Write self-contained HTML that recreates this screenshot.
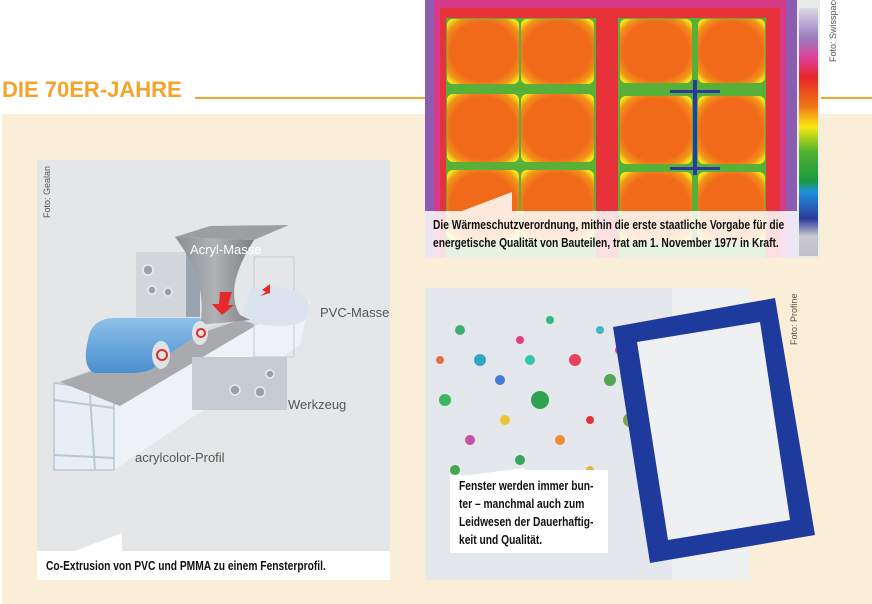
<!DOCTYPE html>
<html><head><meta charset="utf-8"><style>
body{margin:0;width:872px;height:604px;overflow:hidden;background:#fff;position:relative;font-family:"Liberation Sans",sans-serif}
.abs{position:absolute}
.cap{font-family:"Liberation Sans",sans-serif;font-weight:bold;color:#111;font-size:12.5px;line-height:18px;white-space:nowrap;transform:scaleX(0.82);transform-origin:0 0}
</style></head><body>
<div class="abs" style="left:2px;top:77px;font-size:22px;font-weight:bold;color:#f5a32a">DIE 70ER-JAHRE</div>
<div class="abs" style="left:2px;top:114px;width:870px;height:490px;background:#fbeed8"></div>
<div class="abs" style="left:195px;top:97px;width:232px;height:2px;background:#f5a32a"></div>
<div class="abs" style="left:821px;top:97px;width:51px;height:2px;background:#f5a32a"></div>

<svg class="abs" style="left:0;top:0" width="872" height="604">
<defs>
<linearGradient id="blu" x1="0" y1="0" x2="0" y2="1"><stop offset="0" stop-color="#8ec0ea"/><stop offset="1" stop-color="#4a8fcf"/></linearGradient>
<linearGradient id="hop" x1="0" y1="0" x2="1" y2="0"><stop offset="0" stop-color="#8a8c90"/><stop offset=".5" stop-color="#b0b2b6"/><stop offset="1" stop-color="#7c7e82"/></linearGradient>
<radialGradient id="th" cx=".5" cy=".5" r=".65"><stop offset=".7" stop-color="#f06a1a"/><stop offset=".88" stop-color="#f29418"/><stop offset="1" stop-color="#f7e61a"/></radialGradient>
<linearGradient id="cb" x1="0" y1="0" x2="0" y2="1">
<stop offset="0" stop-color="#ddd6e8"/><stop offset=".12" stop-color="#9a7cc0"/><stop offset=".2" stop-color="#e0409a"/><stop offset=".28" stop-color="#e8262a"/><stop offset=".4" stop-color="#f07a18"/><stop offset=".48" stop-color="#f8ea10"/><stop offset=".58" stop-color="#50b030"/><stop offset=".7" stop-color="#1a9a40"/><stop offset=".74" stop-color="#2090e0"/><stop offset=".85" stop-color="#2a3a9a"/><stop offset=".92" stop-color="#c8c8d0"/><stop offset="1" stop-color="#c0c0c4"/></linearGradient>
</defs>
<rect x="37" y="160" width="353" height="420" fill="#e5e6e8"/>
<polygon points="54,383 270,305 310,300 114,392" fill="#d7dadd"/>
<polygon points="114,392 310,300 300,345 114,470" fill="#eef2f6"/>
<polygon points="54,383 114,392 114,470 54,470" fill="#e8eef3" stroke="#b8c8d4" stroke-width="1.5"/>
<line x1="54" y1="400" x2="114" y2="408" stroke="#b8c8d4" stroke-width="2"/>
<line x1="54" y1="455" x2="114" y2="458" stroke="#b8c8d4" stroke-width="2"/>
<line x1="90" y1="395" x2="95" y2="470" stroke="#b8c8d4" stroke-width="2"/>
<polygon points="60,382 245,318 255,326 120,406" fill="#a8aaae"/>
<rect x="192" y="357" width="95" height="53" fill="#c7ccd2"/>
<rect x="136" y="252" width="50" height="65" fill="#d3d7dc"/>
<rect x="186" y="252" width="14" height="65" fill="#9aa4b0"/>
<g fill="#9aa0a6" stroke="#e8ecef" stroke-width="1.5">
<circle cx="148" cy="270" r="5"/><circle cx="152" cy="290" r="4"/><circle cx="168" cy="292" r="4"/>
<circle cx="235" cy="390" r="5"/><circle cx="260" cy="392" r="5"/><circle cx="270" cy="374" r="4"/></g>
<rect x="254" y="257" width="40" height="100" fill="none" stroke="#c8cace"/>
<path d="M250,290 C290,280 320,295 305,320 C290,330 260,325 240,320Z" fill="#dbe4ee"/>
<polygon points="175,237 210,226 289,225 254,240" fill="#9c9ea2"/>
<path d="M175,237 L254,240 C235,270 228,295 240,315 L250,320 L200,325 C205,300 200,270 175,237Z" fill="url(#hop)"/>
<polygon points="220,292 232,292 228,305 234,305 222,315 212,304 219,304" fill="#e42a2a"/>
<polygon points="270,284 262,290 266,292 260,296 270,293" fill="#e42a2a"/>
<path d="M88,340 C90,325 100,318 115,318 L200,318 L205,330 L160,360 C155,372 140,373 130,373 L95,373 C85,370 84,355 88,340Z" fill="url(#blu)"/>
<ellipse cx="200" cy="333" rx="8" ry="12" fill="#dfe3e6"/><circle cx="201" cy="333" r="4" fill="none" stroke="#e42a2a" stroke-width="2"/>
<ellipse cx="161" cy="355" rx="9" ry="14" fill="#dfe3e6"/><circle cx="162" cy="355" r="5" fill="none" stroke="#e42a2a" stroke-width="2"/>
<text x="190" y="254" font-size="13" fill="#fff">Acryl-Masse</text>
<text x="320" y="317" font-size="13" fill="#555">PVC-Masse</text>
<text x="288" y="409" font-size="13" fill="#555">Werkzeug</text>
<text x="135" y="462" font-size="13" fill="#555">acrylcolor-Profil</text>
<text transform="translate(50,218) rotate(-90)" font-size="9" fill="#555">Foto: Gealan</text>
<polygon points="37,551 75,551 122,533 122,551 390,551 390,580 37,580" fill="#fff"/>

<rect x="425" y="0" width="372" height="258" fill="#8c5cb0"/>
<rect x="434" y="0" width="352" height="258" fill="#d83a8a"/>
<rect x="440" y="8" width="340" height="250" fill="#e8323a"/>
<rect x="446" y="18" width="150" height="240" fill="#58b038"/>
<rect x="618" y="18" width="148" height="240" fill="#58b038"/>
<g fill="url(#th)">
<rect x="447" y="19" width="72" height="65" rx="6"/><rect x="521" y="19" width="73" height="65" rx="6"/>
<rect x="447" y="94" width="72" height="68" rx="6"/><rect x="521" y="94" width="73" height="68" rx="6"/>
<rect x="447" y="170" width="72" height="70" rx="6"/><rect x="521" y="170" width="73" height="70" rx="6"/>
<rect x="620" y="19" width="72" height="64" rx="6"/><rect x="698" y="19" width="67" height="64" rx="6"/>
<rect x="620" y="96" width="72" height="68" rx="6"/><rect x="698" y="96" width="67" height="68" rx="6"/>
<rect x="620" y="172" width="72" height="70" rx="6"/><rect x="698" y="172" width="67" height="70" rx="6"/></g>
<rect x="693" y="80" width="4" height="95" fill="#2a3aa0"/>
<rect x="670" y="90" width="50" height="3" fill="#2a3aa0"/><rect x="670" y="167" width="50" height="3" fill="#2a3aa0"/>
<rect x="797" y="0" width="23" height="258" fill="#e8ece8"/>
<rect x="799" y="8" width="19" height="248" fill="url(#cb)"/>
<polygon points="425,211 462,211 512,192 512,211 797,211 797,258 425,258" fill="#fff" fill-opacity=".85"/>
<text transform="translate(836,62) rotate(-90)" font-size="9" fill="#555">Foto: Swisspacer</text>

<rect x="425" y="288" width="325" height="292" fill="#e4e8ec"/>
<rect x="672" y="288" width="78" height="292" fill="#eef0f2"/>
<g fill-opacity=".9">
<circle cx="460" cy="330" r="5" fill="#2aa860"/><circle cx="480" cy="360" r="6" fill="#20a0c0"/><circle cx="520" cy="340" r="4" fill="#e03070"/>
<circle cx="540" cy="400" r="9" fill="#1a9a40"/><circle cx="575" cy="360" r="6" fill="#e8304a"/><circle cx="505" cy="420" r="5" fill="#f0c020"/>
<circle cx="445" cy="400" r="6" fill="#28b050"/><circle cx="470" cy="440" r="5" fill="#c040a0"/><circle cx="600" cy="330" r="4" fill="#30b0c0"/>
<circle cx="560" cy="440" r="5" fill="#f08020"/><circle cx="610" cy="380" r="6" fill="#40a040"/><circle cx="590" cy="420" r="4" fill="#e02030"/>
<circle cx="500" cy="380" r="5" fill="#3070d0"/><circle cx="440" cy="360" r="4" fill="#e06030"/><circle cx="550" cy="320" r="4" fill="#20b070"/>
<circle cx="630" cy="420" r="7" fill="#70a040"/><circle cx="620" cy="350" r="5" fill="#d04080"/><circle cx="520" cy="460" r="5" fill="#20a050"/>
<circle cx="455" cy="470" r="5" fill="#30a040"/><circle cx="590" cy="470" r="4" fill="#e0b030"/><circle cx="530" cy="360" r="5" fill="#20c0a0"/>
</g>
<polygon points="613,327 775,298 815,535 650,563" fill="#1e3a9c"/>
<polygon points="637,342 760,322 790,520 668,540" fill="#eef0f2"/>
<polygon points="450,475 470,475 525,468 525,470 608,470 608,553 450,553" fill="#fff"/>
<text transform="translate(797,345) rotate(-90)" font-size="9" fill="#555">Foto: Profine</text>
</svg>
<div class="abs cap" style="left:46px;top:557px">Co-Extrusion von PVC und PMMA zu einem Fensterprofil.</div>
<div class="abs cap" style="left:433px;top:216px">Die Wärmeschutzverordnung, mithin die erste staatliche Vorgabe für die<br>energetische Qualität von Bauteilen, trat am 1. November 1977 in Kraft.</div>
<div class="abs cap" style="left:459px;top:477px">Fenster werden immer bun-<br>ter – manchmal auch zum<br>Leidwesen der Dauerhaftig-<br>keit und Qualität.</div>
</body></html>
